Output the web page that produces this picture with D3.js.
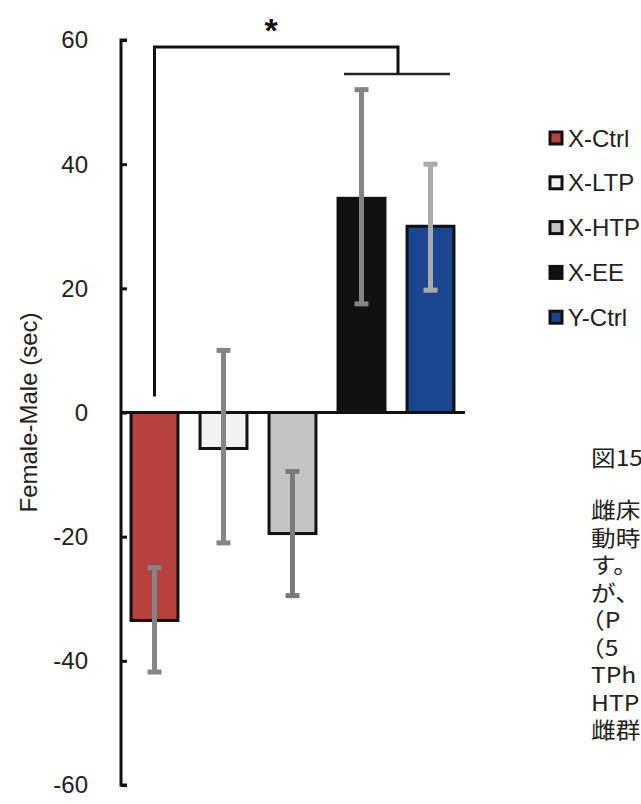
<!DOCTYPE html>
<html>
<head>
<meta charset="utf-8">
<script src="https://cdn.jsdelivr.net/npm/d3@7"></script>
<style>
body { margin: 0; background: #fff; }
svg { display: block; }
</style>
</head>
<body>
<svg width="641" height="804" font-family="'Liberation Sans', Arial, sans-serif"></svg>
<script>

var groups = ["X-Ctrl", "X-LTP", "X-HTP", "X-EE", "Y-Ctrl"];
var means = [-33.5, -5.8, -19.5, 34.5, 30];
var errLow = [-41.8, -21, -29.5, 17.5, 19.7];
var errHigh = [-25, 10, -9.5, 52, 40];
var fills = ["#b5423d", "#f2f2f2", "#c4c4c4", "#111111", "#1b4790"];
var errColors = ["#858585", "#858585", "#7a7a7a", "#858585", "#aaaaaa"];
var yTicks = [-60, -40, -20, 0, 20, 40, 60];
var noteLines = ["図15", "雌床", "動時", "す。", "が、", "（P", "（5", "TPh", "HTP", "雌群"];

var svg = d3.select("svg");

var y = d3.scaleLinear().domain([-60, 60]).range([785, 40]);
var x = d3.scaleBand().domain(groups).range([120, 465]).paddingInner(0.32).paddingOuter(0.16);

// y axis
var axis = d3.axisRight(y).tickValues(yTicks).tickSize(6).tickFormat("");
var gy = svg.append("g").attr("transform", "translate(121,0)").call(axis);
gy.select(".domain").attr("stroke", "#111").attr("stroke-width", 3).attr("d", "M6," + y(60) + "H0V" + y(-60) + "H6");
gy.selectAll(".tick line").attr("stroke", "#111").attr("stroke-width", 3);

svg.selectAll(".ylab")
  .data(yTicks)
  .enter().append("text")
    .attr("x", 88)
    .attr("y", function(d) { return y(d); })
    .attr("dy", "0.35em")
    .attr("text-anchor", "end")
    .attr("font-size", 24)
    .attr("fill", "#222")
    .text(function(d) { return d; });

svg.append("text")
    .attr("transform", "translate(37," + y(0) + ") rotate(-90)")
    .attr("text-anchor", "middle")
    .attr("font-size", 24)
    .attr("fill", "#222")
    .text("Female-Male (sec)");

// bars
svg.selectAll(".bar")
  .data(groups)
  .enter().append("rect")
    .attr("x", function(d) { return x(d); })
    .attr("width", x.bandwidth())
    .attr("y", function(d, i) { return y(Math.max(0, means[i])); })
    .attr("height", function(d, i) { return Math.abs(y(means[i]) - y(0)); })
    .attr("fill", function(d, i) { return fills[i]; })
    .attr("stroke", "#111")
    .attr("stroke-width", 3);

// zero line
svg.append("line")
    .attr("x1", 121).attr("x2", 465)
    .attr("y1", y(0)).attr("y2", y(0))
    .attr("stroke", "#111").attr("stroke-width", 3);

// error bars
var eb = svg.selectAll(".err")
  .data(groups)
  .enter().append("g")
    .attr("transform", function(d) { return "translate(" + (x(d) + x.bandwidth() / 2) + ",0)"; });

eb.append("line")
    .attr("y1", function(d, i) { return y(errLow[i]); })
    .attr("y2", function(d, i) { return y(errHigh[i]); })
    .attr("stroke", function(d, i) { return errColors[i]; })
    .attr("stroke-width", 5);

eb.selectAll(".cap")
  .data(function(d, i) { return [{v: errLow[i], c: errColors[i]}, {v: errHigh[i], c: errColors[i]}]; })
  .enter().append("line")
    .attr("x1", -7).attr("x2", 7)
    .attr("y1", function(d) { return y(d.v); })
    .attr("y2", function(d) { return y(d.v); })
    .attr("stroke", function(d) { return d.c; })
    .attr("stroke-width", 5);

// significance bracket
var cx0 = x("X-Ctrl") + x.bandwidth() / 2;
svg.append("path")
    .attr("d", "M" + cx0 + "," + (y(0) - 16) + "V47H398V74")
    .attr("fill", "none").attr("stroke", "#111").attr("stroke-width", 3);
svg.append("line")
    .attr("x1", x("X-EE") + 6).attr("x2", x("Y-Ctrl") + x.bandwidth() - 4)
    .attr("y1", 74).attr("y2", 74)
    .attr("stroke", "#222").attr("stroke-width", 2.5);
svg.append("text")
    .attr("x", 271).attr("y", 42)
    .attr("text-anchor", "middle")
    .attr("font-size", 34)
    .attr("font-weight", "bold")
    .attr("fill", "#111")
    .text("*");

// legend
var lg = svg.selectAll(".leg")
  .data(groups)
  .enter().append("g")
    .attr("transform", function(d, i) { return "translate(550," + (138 + i * 44.8) + ")"; });
lg.append("rect")
    .attr("x", 0).attr("y", -6)
    .attr("width", 12).attr("height", 12)
    .attr("fill", function(d, i) { return fills[i]; })
    .attr("stroke", "#111").attr("stroke-width", 3);
lg.append("text")
    .attr("x", 18).attr("dy", "0.36em")
    .attr("font-size", 24)
    .attr("fill", "#222")
    .text(function(d) { return d; });

// note text (cut at page edge), slightly stretched like the scan
var noteY = [458, 510, 538, 565, 593, 620, 648, 675, 703, 730];
svg.selectAll(".note")
  .data(noteLines)
  .enter().append("text")
    .attr("transform", function(d, i) {
      return "translate(" + (i === 5 || i === 6 ? 580 : 591) + "," + noteY[i] + ") scale(1.12,1)";
    })
    .attr("dy", "0.35em")
    .attr("font-size", 22)
    .attr("font-family", "'Noto Sans CJK JP', sans-serif")
    .attr("fill", "#222")
    .text(function(d) { return d; });

</script>
</body>
</html>
